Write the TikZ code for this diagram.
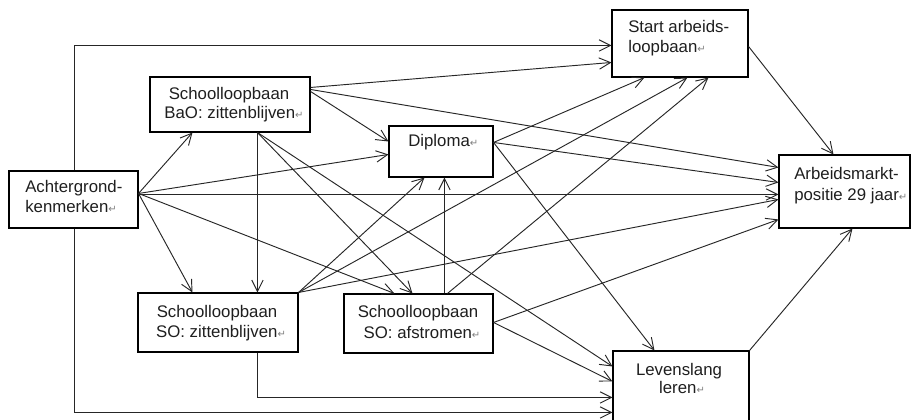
\documentclass[tikz,border=0pt]{standalone}
\usepackage{fontspec}
\setmainfont{Liberation Sans}
\newfontfamily\symfont{DejaVu Sans}
\usetikzlibrary{arrows.meta,calc,fit}
\newcommand\retmark{{\symfont\fontsize{7.5}{7.5}\selectfont\textcolor{gray}{↵}}}
\begin{document}
\begin{tikzpicture}[x=0.75pt,y=-0.75pt,
  box/.style={draw, line width=0.8pt, inner sep=0pt},
  txt/.style={inner sep=0pt, font=\fontsize{12.6}{15}\selectfont, text=black!88},
  link/.style={line width=0.7pt, draw=black!85, -{Straight Barb[length=8.5pt,width=8.5pt]}}]
\useasboundingbox (0,0) rectangle (912,420);
\fill[white] (0,0) rectangle (912,420);
% boxes
\node[box, fit={(9,171)(138,228)}] (A) {};
\node[box, fit={(150,77)(310,132)}] (B) {};
\node[box, fit={(389,126)(493,177)}] (D) {};
\node[box, fit={(612,10)(748,77)}] (S) {};
\node[box, fit={(779,155)(910,228)}] (M) {};
\node[box, fit={(138,293)(298,352)}] (Z) {};
\node[box, fit={(344,294)(493,353)}] (F) {};
\node[box, fit={(613,351)(749,425)}] (L) {};
% texts
\node[txt, anchor=base west] (A1) at (25,193) {Achtergrond-};
\node[txt, anchor=base west] (A2) at (25,213) {kenmerken\retmark};
\node[txt, anchor=base] (B1) at (229,100) {Schoolloopbaan};
\node[txt, anchor=base] (B2) at (234,119) {BaO: zittenblijven\retmark};
\node[txt, anchor=base west] (D1) at (408,147) {Diploma\retmark};
\node[txt, anchor=base west] (S1) at (628,33) {Start arbeids-};
\node[txt, anchor=base west] (S2) at (628,53) {loopbaan\retmark};
\node[txt, anchor=base west] (M1) at (794,180) {Arbeidsmarkt-};
\node[txt, anchor=base west] (M2) at (794,200) {positie 29 jaar\retmark};
\node[txt, anchor=base] (Z1) at (217,317) {Schoolloopbaan};
\node[txt, anchor=base] (Z2) at (221,337) {SO: zittenblijven\retmark};
\node[txt, anchor=base] (F1) at (418,317) {Schoolloopbaan};
\node[txt, anchor=base] (F2) at (422,338) {SO: afstromen\retmark};
\node[txt, anchor=base] (L1) at (679,375) {Levenslang};
\node[txt, anchor=base] (L2) at (682,393) {leren\retmark};
% helper coordinates
\coordinate (Ao) at ($(A.north east)+(0,23)$);
\coordinate (Bb) at ($(B.south west)+(108,0)$);
\coordinate (Dr) at ($(D.north east)+(0,17)$);
\coordinate (Zc) at (Z.north east);
\coordinate (Fr) at ($(F.north east)+(0,29)$);
\coordinate (Ft) at ($(F.north west)+(101,0)$);
% connectors
\draw[link] ($(A.north west)+(66,0)$) |- ($(S.north west)+(0,36)$);
\draw[link] ($(A.south west)+(66,0)$) |- ($(L.north west)+(0,62)$);
\draw[link] ($(Z.south west)+(120,0)$) |- ($(L.north west)+(0,47)$);
\draw[link] ($(A.north east)+(0,24)$) -- ($(M.north west)+(0,40)$);
\draw[link] (Ao) -- ($(B.south west)+(43,0)$);
\draw[link] (Ao) -- ($(D.north west)+(0,29)$);
\draw[link] (Ao) -- ($(Z.north west)+(55,0)$);
\draw[link] (Ao) -- ($(F.north west)+(51,0)$);
\draw[link] (Bb) -- (Bb |- Z.north);
\draw[link] ($(B.north east)+(0,11)$) -- ($(S.north west)+(0,53)$);
\draw[link] ($(B.north east)+(0,15)$) -- ($(D.north west)+(0,16)$);
\draw[link] ($(B.north east)+(0,13)$) -- ($(M.north west)+(0,13)$);
\draw[link] (Bb) -- ($(F.north west)+(69,0)$);
\draw[link] (Bb) -- ($(L.north west)+(0,16)$);
\draw[link] (Dr) -- ($(S.south west)+(33,0)$);
\draw[link] (Dr) -- ($(M.north west)+(0,28)$);
\draw[link] (Dr) -- ($(L.north west)+(42,0)$);
\draw[link] (Zc) -- ($(D.south west)+(36,0)$);
\draw[link] (Zc) -- ($(S.south west)+(76,0)$);
\draw[link] (Zc) -- ($(M.north west)+(0,45)$);
\draw[link] (Ft) -- (Ft |- D.south);
\draw[link] ($(F.north west)+(104,0)$) -- ($(S.south west)+(97,0)$);
\draw[link] (Fr) -- ($(L.north west)+(0,31)$);
\draw[link] (Fr) -- ($(M.north west)+(0,65)$);
\draw[link] ($(S.north east)+(0,37)$) -- ($(M.north west)+(55,0)$);
\draw[link] (L.north east) -- ($(M.south west)+(74,0)$);
\end{tikzpicture}
\end{document}
